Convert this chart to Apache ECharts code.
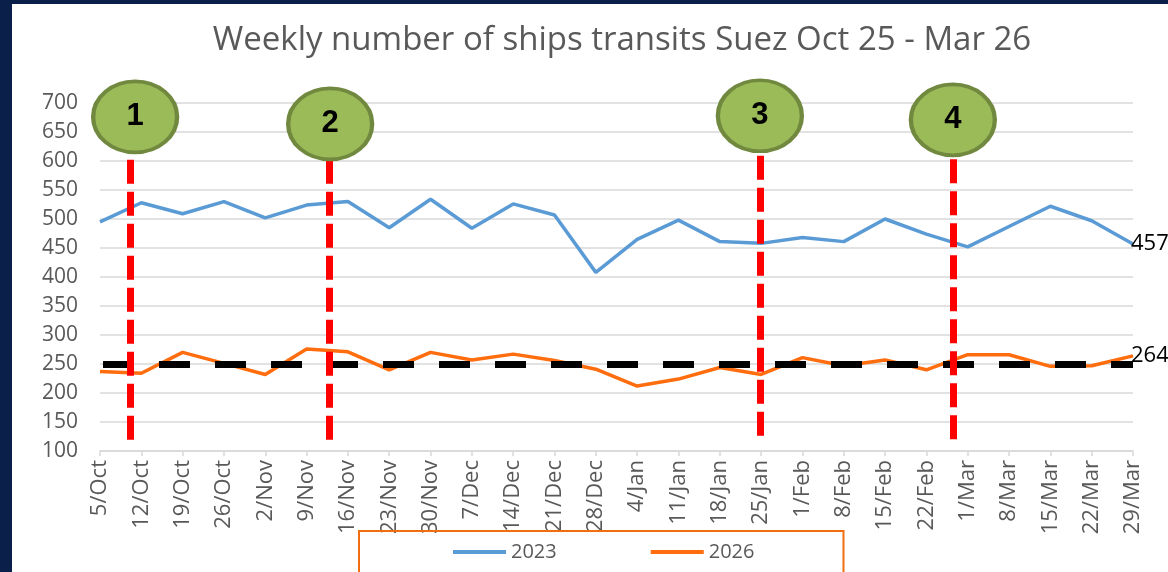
<!DOCTYPE html>
<html>
<head>
<meta charset="utf-8">
<script src="https://cdn.jsdelivr.net/npm/echarts@6/dist/echarts.min.js"></script>
<style>
    html, body { margin: 0; padding: 0; background: #0b1f4b; }
    #suez_chart {
        position: absolute; left: 12px; top: 4px;
        width: 1156px; height: 568px; background: #fff;
    }
</style>
</head>
<body>
<div id="suez_chart"></div>
<script>
// week labels
const weeks = ['5/Oct', '12/Oct', '19/Oct', '26/Oct', '2/Nov', '9/Nov', '16/Nov', '23/Nov', '30/Nov',
    '7/Dec', '14/Dec', '21/Dec', '28/Dec', '4/Jan', '11/Jan', '18/Jan', '25/Jan', '1/Feb', '8/Feb',
    '15/Feb', '22/Feb', '1/Mar', '8/Mar', '15/Mar', '22/Mar', '29/Mar'];

const ships2023 = [495, 528, 509, 530, 502, 524, 530, 485, 534, 484, 526, 507, 408,
    465, 498, 461, 458, 468, 461, 500, 474, 452, 487, 522, 497, 457];

const ships2026 = [237, 234, 270, 251, 232, 276, 271, 240, 270, 257, 267, 256, 241,
    212, 224, 244, 232, 261, 247, 257, 240, 266, 266, 246, 247, 264];

const refLevel = 250;

// event markers: position along the week axis (index units), label, circle height, dashed line range
const markerPos = [0.74, 5.54, 15.97, 20.64];
const circlePos = [0.85, 5.57, 15.97, 20.64];
const markerNames = ['1', '2', '3', '4'];
const markerTop = [676, 664, 678, 671];
const markerLineTop = [602, 602, 609, 603];
const markerLineBottom = [109, 109, 114, 109];

const yTicks = {min: 100, max: 700, interval: 50};

const grey = '#595959';
const gridColor = '#d9d9d9';

const markerLines = markerPos.map((x, i) => [
    {coord: [x, markerLineTop[i]]},
    {coord: [x, markerLineBottom[i]]}
]);

const markerCircles = circlePos.map((x, i) => ({
    value: [x, markerTop[i]],
    name: markerNames[i]
}));

const endLabel = {
    show: true,
    distance: -2,
    color: '#000',
    fontSize: 22,
    fontFamily: 'Open Sans',
    formatter: p => p.value
};

const option = {
    backgroundColor: '#fff',
    animation: false,
    title: {
        text: 'Weekly number of ships transits Suez Oct 25 - Mar 26',
        left: 605,
        top: 15,
        textAlign: 'center',
        textStyle: {
            color: grey,
            fontFamily: 'Open Sans',
            fontWeight: 'normal',
            fontSize: 33
        }
    },
    legend: {
        data: ['2023', '2026'],
        left: 347,
        top: 527,
        padding: [11, 89, 40, 94],
        itemGap: 94,
        itemWidth: 53,
        itemHeight: 4,
        icon: 'rect',
        borderColor: '#f26d10',
        borderWidth: 2,
        textStyle: {color: grey, fontSize: 20, fontFamily: 'Open Sans'}
    },
    grid: {
        left: 88,
        right: 35,
        top: 99,
        bottom: 121
    },
    xAxis: [
        {
            type: 'category',
            data: weeks,
            boundaryGap: false,
            axisLine: {lineStyle: {color: gridColor, width: 1.5}},
            axisTick: {show: true, length: 5, lineStyle: {color: gridColor, width: 1.5}},
            axisLabel: {
                rotate: 90,
                color: grey,
                fontSize: 22,
                fontFamily: 'Open Sans',
                margin: 9,
                interval: 0
            }
        },
        {
            type: 'value',
            min: 0,
            max: weeks.length - 1,
            show: false
        }
    ],
    yAxis: {
        type: 'value',
        min: yTicks.min,
        max: yTicks.max,
        interval: yTicks.interval,
        axisLine: {show: false},
        axisTick: {show: false},
        splitLine: {lineStyle: {color: gridColor, width: 1.5}},
        axisLabel: {color: grey, fontSize: 21, fontFamily: 'Open Sans', margin: 22}
    },
    series: [
        {
            name: '2023',
            type: 'line',
            data: ships2023,
            symbol: 'none',
            color: '#5b9bd5',
            lineStyle: {width: 3.5, color: '#5b9bd5'},
            endLabel: endLabel,
            z: 3
        },
        {
            name: '2026',
            type: 'line',
            data: ships2026,
            symbol: 'none',
            color: '#ff6d0f',
            lineStyle: {width: 3.5, color: '#ff6d0f'},
            endLabel: endLabel,
            markLine: {
                silent: true,
                symbol: 'none',
                label: {show: false},
                lineStyle: {color: '#000', width: 7, type: [31, 25], dashOffset: -3},
                data: [{yAxis: refLevel}]
            },
            z: 3
        },
        {
            name: 'events',
            type: 'scatter',
            xAxisIndex: 1,
            data: markerCircles,
            symbol: 'circle',
            symbolSize: [84, 71],
            clip: false,
            itemStyle: {color: '#9bbb59', borderColor: '#71893f', borderWidth: 4, opacity: 1},
            label: {
                show: true,
                position: 'inside',
                formatter: p => p.name,
                color: '#000',
                fontSize: 31,
                fontWeight: 'bold',
                fontFamily: 'Liberation Sans'
            },
            markLine: {
                silent: true,
                symbol: 'none',
                label: {show: false},
                lineStyle: {color: '#ff0000', width: 7, type: [24, 8], opacity: 1},
                data: markerLines
            },
            z: 5
        }
    ]
};

let suezChart = echarts.init(document.getElementById('suez_chart'));
suezChart.setOption(option);

window.addEventListener('resize', function () {
    suezChart.resize();
});
</script>
</body>
</html>
